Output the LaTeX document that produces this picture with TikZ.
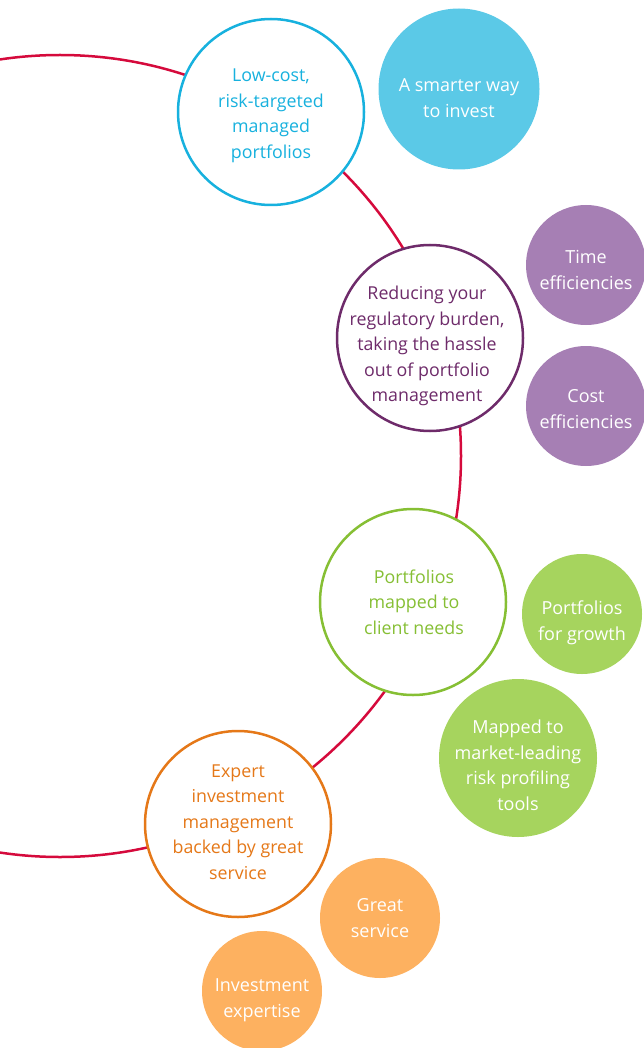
\documentclass[tikz,border=0pt]{standalone}
\usepackage{fontspec}
\setmainfont{Open Sans}
\definecolor{arcred}{HTML}{D50A3C}
\definecolor{blueline}{HTML}{17B1DE}
\definecolor{bluefill}{HTML}{5BC9E7}
\definecolor{purpleline}{HTML}{6E2B6A}
\definecolor{purplefill}{HTML}{A67FB4}
\definecolor{greenline}{HTML}{86BF34}
\definecolor{greenfill}{HTML}{A6D45E}
\definecolor{orangeline}{HTML}{E57818}
\definecolor{orangefill}{HTML}{FDB160}
\tikzset{
  ring/.style={circle, draw=#1, line width=2.5pt, fill=white, minimum size=186pt, inner sep=0pt},
  blob/.style={circle, fill=#1, draw=none, inner sep=0pt},
  ringtext/.style={text=#1, align=center, inner sep=0pt, font=\fontsize{17.8}{25.5}\selectfont},
  blobtext/.style={text=white, align=center, inner sep=0pt, font=\fontsize{18}{25.5}\selectfont},
}
\begin{document}
\begin{tikzpicture}[x=1pt,y=-1pt]
\useasboundingbox (0,0) rectangle (644,1048);
\clip (0,0) rectangle (644,1048);
% big red arc
\coordinate (hub) at (60,456);
\draw[arcred, line width=2.5pt] (hub) circle[radius=401];
% outlined circles
\node[ring=blueline] (c1) at (271,112) {};
\node[ringtext=blueline] (t1) at (271,116) {Low-cost,\\risk-targeted\\managed\\portfolios};
\node[ring=purpleline] (c2) at (430,338) {};
\node[ringtext=purpleline] (t2) at (427,346) {Reducing your\\regulatory burden,\\taking the hassle\\out of portfolio\\management};
\node[ring=greenline] (c3) at (413,602) {};
\node[ringtext=greenline] (t3) at (414,602) {Portfolios\\mapped to\\client needs};
\node[ring=orangeline] (c4) at (238,824) {};
\node[ringtext=orangeline] (t4) at (238,822) {Expert\\investment\\management\\backed by great\\service};
% filled circles
\node[blob=bluefill, minimum size=161pt] (b1) at (459,89) {};
\node[blobtext] (bt1) at (459,98) {A smarter way\\to invest};
\node[blob=purplefill, minimum size=120pt] (b2) at (586,265) {};
\node[blobtext] (bt2) at (586,270) {Time\\efficiencies};
\node[blob=purplefill, minimum size=120pt] (b3) at (586,406) {};
\node[blobtext] (bt3) at (586,409) {Cost\\efficiencies};
\node[blob=greenfill, minimum size=120pt] (b4) at (582,614) {};
\node[blobtext] (bt4) at (582,623) {Portfolios\\for growth};
\node[blob=greenfill, minimum size=158pt] (b5) at (518,758) {};
\node[blobtext] (bt5) at (518,765) {Mapped to\\market-leading\\risk profiling\\tools};
\node[blob=orangefill, minimum size=120pt] (b6) at (380,918) {};
\node[blobtext] (bt6) at (380,918) {Great\\service};
\node[blob=orangefill, minimum size=120pt] (b7) at (262,991) {};
\node[blobtext] (bt7) at (262,1000) {Investment\\expertise};
\end{tikzpicture}
\end{document}
